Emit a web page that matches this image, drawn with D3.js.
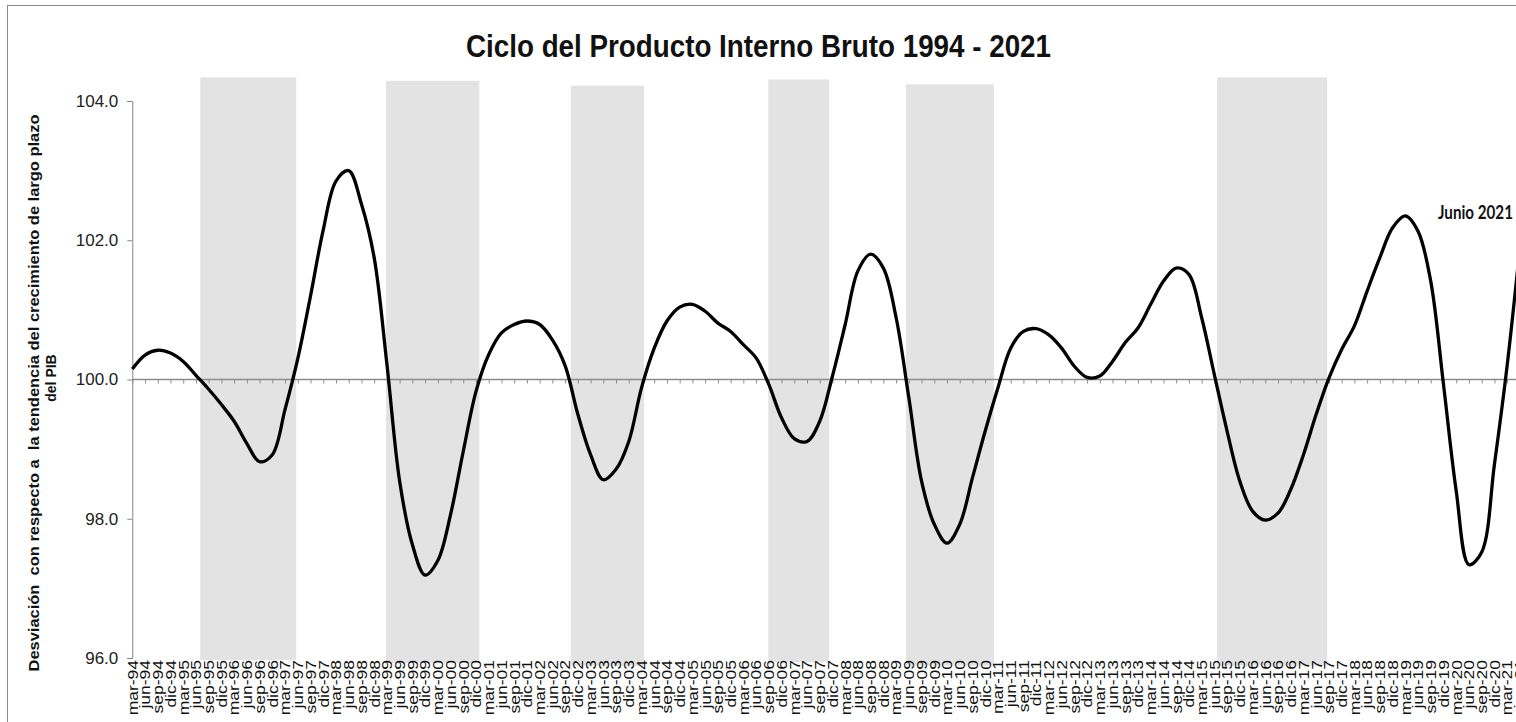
<!DOCTYPE html>
<html>
<head>
<meta charset="utf-8">
<script src="https://cdn.jsdelivr.net/npm/d3@7"></script>
<style>
  body { margin: 0; background: #fff; }
  svg { display: block; font-family: "Liberation Sans", Arial, sans-serif; }
</style>
</head>
<body>
<div id="chart"></div>
<script>
// quarter labels (mar-94 ... jun-21)
const monthNames = ["mar", "jun", "sep", "dic"];
const years = ["94","95","96","97","98","99","00","01","02","03","04","05","06","07",
               "08","09","10","11","12","13","14","15","16","17","18","19","20","21"];

// ciclo del PIB
const cycleValues = [
  100.15, 100.35, 100.42, 100.38, 100.26, 100.06, 99.86, 99.64, 99.40, 99.08,
  98.82, 98.92, 99.57, 100.30, 101.20, 102.15, 102.85, 103.00, 102.52, 101.75,
  100.22, 98.54, 97.63, 97.19, 97.40, 98.06, 98.97, 99.83, 100.36, 100.67,
  100.79, 100.84, 100.79, 100.57, 100.20, 99.50, 98.92, 98.56, 98.71, 99.11,
  99.88, 100.45, 100.84, 101.04, 101.08, 100.98, 100.81, 100.69, 100.50, 100.31,
  99.93, 99.45, 99.15, 99.11, 99.40, 100.05, 100.79, 101.56, 101.80, 101.60,
  100.89, 99.74, 98.54, 97.92, 97.65, 97.92, 98.59, 99.26, 99.88, 100.45,
  100.69, 100.73, 100.64, 100.45, 100.19, 100.03, 100.05, 100.26, 100.53, 100.74,
  101.08, 101.41, 101.60, 101.51, 100.89, 100.07, 99.26, 98.54, 98.11, 97.98,
  98.08, 98.42, 98.92, 99.50, 100.02, 100.43, 100.77, 101.27, 101.75, 102.18,
  102.35, 102.13, 101.41, 99.93, 98.40, 97.34, 97.52, 98.78, 100.20, 101.90
];

// franjas grises (recesiones), en posiciones de trimestre
const shadeStart = [5.34, 19.93, 34.46, 49.96, 60.78, 85.22];
const shadeEnd   = [12.88, 27.26, 40.20, 54.73, 67.69, 93.86];
const shadeTop   = [104.34, 104.29, 104.22, 104.31, 104.24, 104.34];
const shadeBottom = [95.97, 95.93, 95.89, 95.94, 95.89, 95.89];

const yTicks = [96, 98, 100, 102, 104];

const chartTitle = "Ciclo del Producto Interno Bruto 1994 - 2021";
const yTitle1 = "Desviación  con respecto a  la tendencia del crecimiento de largo plazo";
const yTitle2 = "del PIB";
const endLabel = "Junio 2021";

let quarterLabels = [];
for (let y of years) {
    for (let m of monthNames) quarterLabels.push(m + "-" + y);
}
quarterLabels = quarterLabels.slice(0, cycleValues.length);

const width = 1516, height = 722;

const svg = d3.select("#chart").append("svg")
    .attr("width", width)
    .attr("height", height);

// x: one step per quarter, the last one falls just past the right edge
const x = d3.scaleLinear()
    .domain([0, cycleValues.length - 1])
    .range([132.3, 132.3 + 12.73 * (cycleValues.length - 1)]);

const y = d3.scaleLinear()
    .domain([96, 104])
    .range([658, 101]);

// chart border
svg.append("rect")
    .attr("x", 7.5).attr("y", 5.5)
    .attr("width", 1600).attr("height", 800)
    .attr("fill", "none")
    .attr("stroke", "#8a8a8a")
    .attr("stroke-width", 1);

// shaded periods
svg.append("g").selectAll("rect")
    .data(shadeStart.map((s, i) => ({s: s, e: shadeEnd[i], top: shadeTop[i], bot: shadeBottom[i]})))
    .join("rect")
    .attr("x", d => x(d.s))
    .attr("width", d => x(d.e) - x(d.s))
    .attr("y", d => y(d.top))
    .attr("height", d => y(d.bot) - y(d.top))
    .attr("fill", "#e3e3e3");

// y axis
const yAxis = svg.append("g")
    .attr("transform", `translate(${x(0)},0)`)
    .call(d3.axisLeft(y).tickValues(yTicks).tickFormat(d3.format(".1f")).tickSize(5).tickPadding(9));
yAxis.select(".domain").attr("stroke", "#868686");
yAxis.selectAll(".tick line").attr("stroke", "#868686");
yAxis.selectAll(".tick text")
    .attr("font-size", 17)
    .attr("font-family", "Liberation Sans, Arial, sans-serif")
    .attr("fill", "#222");

// horizontal axis line at 100 with small ticks
const zeroAxis = svg.append("g")
    .attr("transform", `translate(0,${y(100)})`)
    .call(d3.axisBottom(x).tickValues(d3.range(cycleValues.length)).tickFormat("").tickSize(4).tickSizeOuter(0));
zeroAxis.select(".domain").attr("stroke", "#8c8c8c").attr("stroke-width", 1.5)
    .attr("d", `M${x(0)},0H${width + 10}`);
zeroAxis.selectAll(".tick line").attr("stroke", "#8c8c8c");

// category labels at the bottom
const labelAxis = svg.append("g")
    .attr("transform", `translate(0,${660})`)
    .call(d3.axisBottom(x).tickValues(d3.range(cycleValues.length))
        .tickFormat(i => quarterLabels[i]).tickSize(0).tickPadding(0));
labelAxis.select(".domain").remove();
labelAxis.selectAll(".tick text")
    .attr("font-size", 17.5)
    .attr("font-family", "Liberation Sans, Arial, sans-serif")
    .attr("fill", "#111")
    .attr("text-anchor", "end")
    .attr("dy", null)
    .attr("y", null)
    .attr("dominant-baseline", "central")
    .attr("transform", "scale(0.8,1) rotate(-90)");

// the cycle line
const line = d3.line()
    .x((d, i) => x(i))
    .y(d => y(d))
    .curve(d3.curveCatmullRom.alpha(0.5));

svg.append("path")
    .datum(cycleValues)
    .attr("d", line)
    .attr("fill", "none")
    .attr("stroke", "#000")
    .attr("stroke-width", 3.3)
    .attr("stroke-linejoin", "round");

// title
svg.append("text")
    .attr("x", 466).attr("y", 57)
    .attr("font-size", 31)
    .attr("font-weight", "bold")
    .attr("textLength", 585)
    .attr("lengthAdjust", "spacingAndGlyphs")
    .attr("fill", "#111")
    .text(chartTitle);

// y axis title (two lines)
svg.append("text")
    .attr("transform", "translate(39,393) rotate(-90)")
    .attr("text-anchor", "middle")
    .attr("font-size", 14)
    .attr("font-weight", "bold")
    .attr("textLength", 557)
    .attr("lengthAdjust", "spacingAndGlyphs")
    .style("white-space", "pre")
    .attr("fill", "#111")
    .text(yTitle1);

svg.append("text")
    .attr("transform", "translate(56,378) rotate(-90)")
    .attr("text-anchor", "middle")
    .attr("font-size", 14)
    .attr("font-weight", "bold")
    .attr("fill", "#111")
    .text(yTitle2);

// end label
svg.append("text")
    .attr("x", 1438).attr("y", 219)
    .attr("font-family", "Lato, sans-serif")
    .attr("font-size", 18)
    .attr("font-weight", "bold")
    .attr("textLength", 75)
    .attr("lengthAdjust", "spacingAndGlyphs")
    .attr("fill", "#111")
    .text(endLabel);
</script>
</body>
</html>
